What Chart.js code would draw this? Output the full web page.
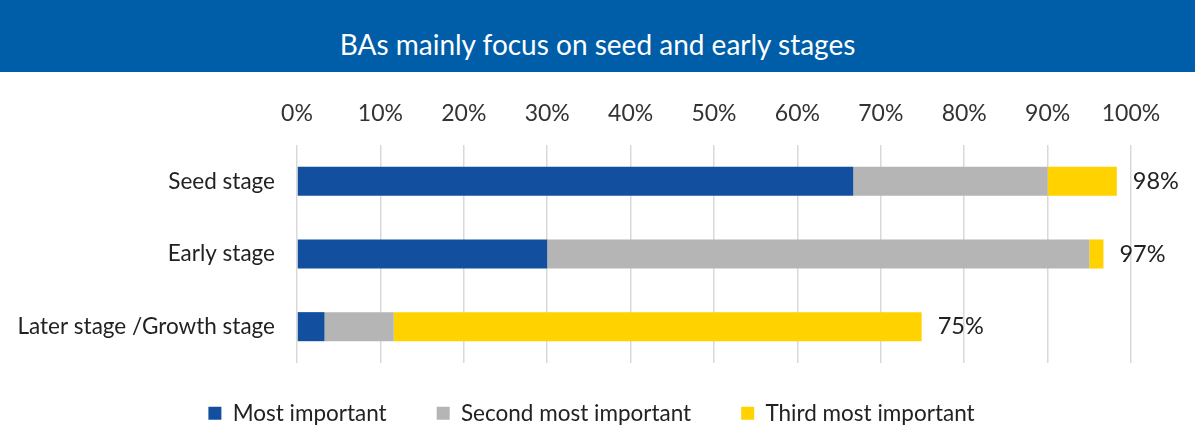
<!DOCTYPE html>
<html>
<head>
<meta charset="utf-8">
<script src="https://cdn.jsdelivr.net/npm/chart.js@4/dist/chart.umd.min.js"></script>
<style>
  body { margin: 0; background: #fff; }
  #title {
    width: 1195px; height: 72px; background: #005EA8; color: #fff;
    font-family: Lato, "Open Sans", sans-serif; font-size: 28px;
    text-align: center; line-height: 72px; padding-top: 8px; box-sizing: border-box;
  }
</style>
</head>
<body>
<div id="title">BAs mainly focus on seed and early stages</div>
<canvas id="myChart" width="1195" height="358"></canvas>
<script>
'use strict';
const stages=['Seed stage','Early stage','Later stage /Growth stage'];
const mostImportant=[66.7,30.0,3.3];
const secondImportant=[23.3,65.0,8.3];
const thirdImportant=[8.3,1.7,63.3];
const xTicks=[0,10,20,30,40,50,60,70,80,90,100];

const fontName='Lato, "Open Sans", sans-serif';

// totals at bar ends
const totalLabels={
  id:'totalLabels',
  afterLayout(chart){
    // legend sits a bit higher and more to the right than default
    chart.legend.top=280;
    chart.legend.bottom=358;
    chart.legend.left+=26;
    chart.legend.right+=26;
  },
  afterDatasetsDraw(chart){
    const ctx=chart.ctx;
    const last=chart.getDatasetMeta(chart.data.datasets.length-1);
    ctx.save();
    ctx.font='23.5px '+fontName;
    ctx.fillStyle='#222';
    ctx.textBaseline='middle';
    for(let i=0;i<stages.length;i++){
      let total=mostImportant[i]+secondImportant[i]+thirdImportant[i];
      let bar=last.data[i];
      ctx.fillText(Math.round(total)+'%',bar.x+16,bar.y);
    }
    ctx.restore();
  }
};

const ctx=document.getElementById('myChart').getContext('2d');
const myChart=new Chart(ctx,{
  type:'bar',
  data:{
    labels:stages,
    datasets:[{
      label:'Most important',
      data:mostImportant,
      backgroundColor:'#12509F'
    },{
      label:'Second most important',
      data:secondImportant,
      backgroundColor:'#B5B5B5'
    },{
      label:'Third most important',
      data:thirdImportant,
      backgroundColor:'#FFD200'
    }]
  },
  options:{
    indexAxis:'y',
    responsive:false,
    animation:false,
    barPercentage:0.8,
    categoryPercentage:0.5,
    layout:{padding:{left:0,right:64,top:0,bottom:0}},
    plugins:{
      title:{display:false},
      tooltip:{enabled:false},
      legend:{
        position:'bottom',
        maxHeight:67,
        labels:{
          boxWidth:13,
          boxHeight:13,
          padding:50,
          color:'#222',
          font:{family:fontName,size:22.5}
        }
      }
    },
    scales:{
      x:{
        position:'top',
        stacked:true,
        min:0,
        max:100,
        afterBuildTicks(scale){
          scale.ticks=xTicks.map(v=>({value:v}));
        },
        afterFit(scale){ scale.height=73; },
        border:{display:false},
        grid:{color:'#D9D9D9',lineWidth:1.5,drawTicks:false},
        ticks:{
          padding:18,
          color:'#333',
          font:{family:fontName,size:23},
          callback:v=>v+'%'
        }
      },
      y:{
        stacked:true,
        afterFit(scale){ scale.width=297; },
        border:{display:false},
        grid:{display:false,drawTicks:false},
        ticks:{
          padding:22,
          color:'#222',
          font:{family:fontName,size:22.5}
        }
      }
    }
  },
  plugins:[totalLabels]
});
</script>
</body>
</html>
